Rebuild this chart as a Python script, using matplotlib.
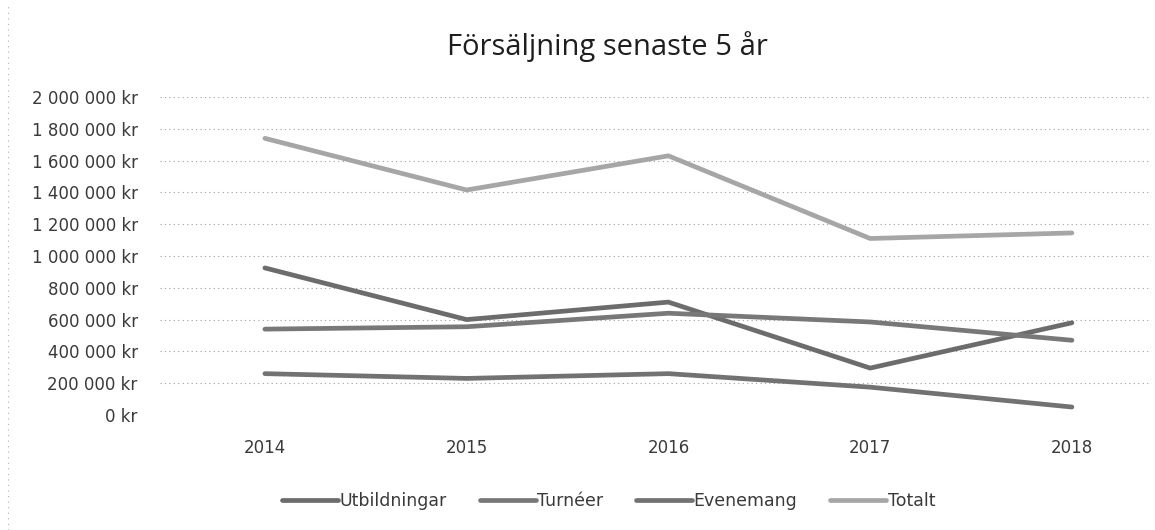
import matplotlib
matplotlib.use("Agg")
import matplotlib.pyplot as plt
from matplotlib.lines import Line2D
from matplotlib.ticker import FuncFormatter, MultipleLocator

plt.rcParams.update({
    "font.family": ["DejaVu Sans"],
    "font.size": 12,
})

# data
years = ["2014", "2015", "2016", "2017", "2018"]
utbildningar = [925000, 600000, 710000, 295000, 580000]
turneer = [540000, 555000, 640000, 585000, 470000]
evenemang = [260000, 230000, 260000, 175000, 50000]
totalt = [1740000, 1415000, 1630000, 1110000, 1145000]

series = [
    ("Utbildningar", utbildningar, "#6c6c6c"),
    ("Turnéer", turneer, "#787878"),
    ("Evenemang", evenemang, "#727272"),
    ("Totalt", totalt, "#a6a6a6"),
]

fig = plt.figure(figsize=(11.55, 5.3), dpi=100)
ax = fig.add_axes([0.1385, 0.217, 0.857, 0.6])

x = list(range(len(years)))
for name, vals, col in series:
    ax.plot(x, vals, color=col, lw=3.4, label=name, solid_capstyle="round")

ax.set_xlim(-0.52, 4.386)
ax.set_ylim(0, 2000000)
ax.yaxis.set_major_locator(MultipleLocator(200000))
ax.yaxis.set_major_formatter(FuncFormatter(
    lambda v, p: f"{int(v):,} kr".replace(",", " ")))
ax.set_xticks(x)
ax.set_xticklabels(years)

ax.grid(True, axis="y", color="#a0a0a0", lw=0.8, linestyle=(0, (1, 3)))
ax.set_axisbelow(True)
for s in ax.spines.values():
    s.set_visible(False)
ax.tick_params(length=0, colors="#3a3a3a", labelsize=12)
ax.tick_params(axis="x", pad=17)
ax.tick_params(axis="y", pad=16)

fig.text(0.526, 0.913, "Försäljning senaste 5 år", ha="center", va="center",
         fontsize=21, color="#1e1e1e", family=["Open Sans", "DejaVu Sans"])

ax.legend(loc="center", bbox_to_anchor=(0.4535, -0.27), ncol=4,
          frameon=False, fontsize=12.5, handlelength=3.2, handletextpad=0.1,
          columnspacing=1.9, labelcolor="#3a3a3a")

# faint scanned chart border on the left
fig.add_artist(Line2D([0.007, 0.007], [0.0, 0.99], transform=fig.transFigure,
                      color="#b0b0b0", lw=0.8, linestyle=(0, (1, 4))))

fig.savefig("out.png", dpi=100, facecolor="white")
